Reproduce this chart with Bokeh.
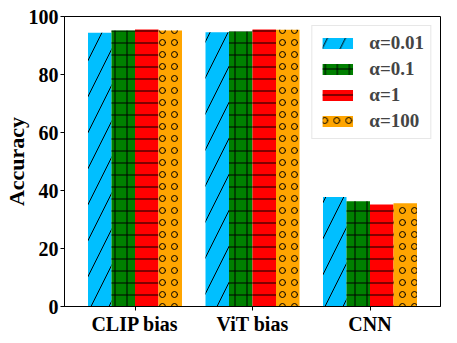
from bokeh.plotting import figure
from bokeh.models import ColumnDataSource, FactorRange, Legend, LegendItem
from bokeh.transform import dodge
from bokeh.embed import file_html
from bokeh.resources import INLINE

groups = ["CLIP bias", "ViT bias", "CNN"]
series_labels = ["α=0.01", "α=0.1", "α=1", "α=100"]
acc_001 = [94.4, 94.6, 37.8]
acc_01 = [95.2, 94.8, 36.3]
acc_1 = [95.5, 95.5, 35.2]
acc_100 = [95.2, 95.4, 35.6]
y_ticks = [0, 20, 40, 60, 80, 100]

colors = ["#00BFFF", "#008000", "#FF0000", "#FFA500"]
hatches = ["/", "+", "-", "o"]
hatch_scales = [36, 12, 12, 12]
keys = ["a001", "a01", "a1", "a100"]
offsets = [-0.3, -0.1, 0.1, 0.3]

source = ColumnDataSource(data=dict(groups=groups, a001=acc_001, a01=acc_01, a1=acc_1, a100=acc_100))

FONT = "Liberation Serif"

p = figure(x_range=FactorRange(*groups, range_padding=0.1, range_padding_units="absolute"),
           y_range=(0, 100), frame_width=376, frame_height=290,
           output_backend="svg", toolbar_location=None,
           min_border_left=62, min_border_right=3, min_border_top=16, min_border_bottom=26)

renderers = []
for k, c, h, hs, off in zip(keys, colors, hatches, hatch_scales, offsets):
    r = p.vbar(x=dodge("groups", off, range=p.x_range), top=k, width=0.2, source=source,
               fill_color=c, line_color=None, hatch_pattern=h, hatch_color="black",
               hatch_scale=hs, hatch_weight=1)
    renderers.append(r)

legend = Legend(items=[LegendItem(label=l, renderers=[r]) for l, r in zip(series_labels, renderers)],
                location="top_right", margin=9, padding=6, spacing=4,
                glyph_width=38, glyph_height=14, label_standoff=13, label_height=20,
                label_text_font=FONT, label_text_font_style="bold", label_text_font_size="19px",
                border_line_color="#d0d0d0", border_line_width=1, background_fill_alpha=1)
p.add_layout(legend, "center")

p.xgrid.visible = False
p.ygrid.visible = False
p.outline_line_color = "black"
p.outline_line_width = 1
p.outline_line_alpha = 1

p.yaxis.ticker = y_ticks
p.yaxis.axis_label = "Accuracy"
for ax in (p.xaxis[0], p.yaxis[0]):
    ax.axis_line_color = "black"
    ax.major_tick_line_color = "black"
    ax.major_tick_out = 4
    ax.major_tick_in = 0
    ax.minor_tick_line_color = None
    ax.major_label_text_font = FONT
    ax.major_label_text_font_style = "bold"
    ax.major_label_text_font_size = "20px"
    ax.major_label_text_color = "black"
    ax.major_label_standoff = 2
p.xaxis.group_text_font_size = "0px"
p.yaxis.axis_label_text_font = FONT
p.yaxis.axis_label_text_font_style = "bold"
p.yaxis.axis_label_text_font_size = "22px"
p.yaxis.axis_label_text_color = "black"
p.yaxis.axis_label_standoff = -3

open("out.html", "w").write(file_html(p, INLINE))
